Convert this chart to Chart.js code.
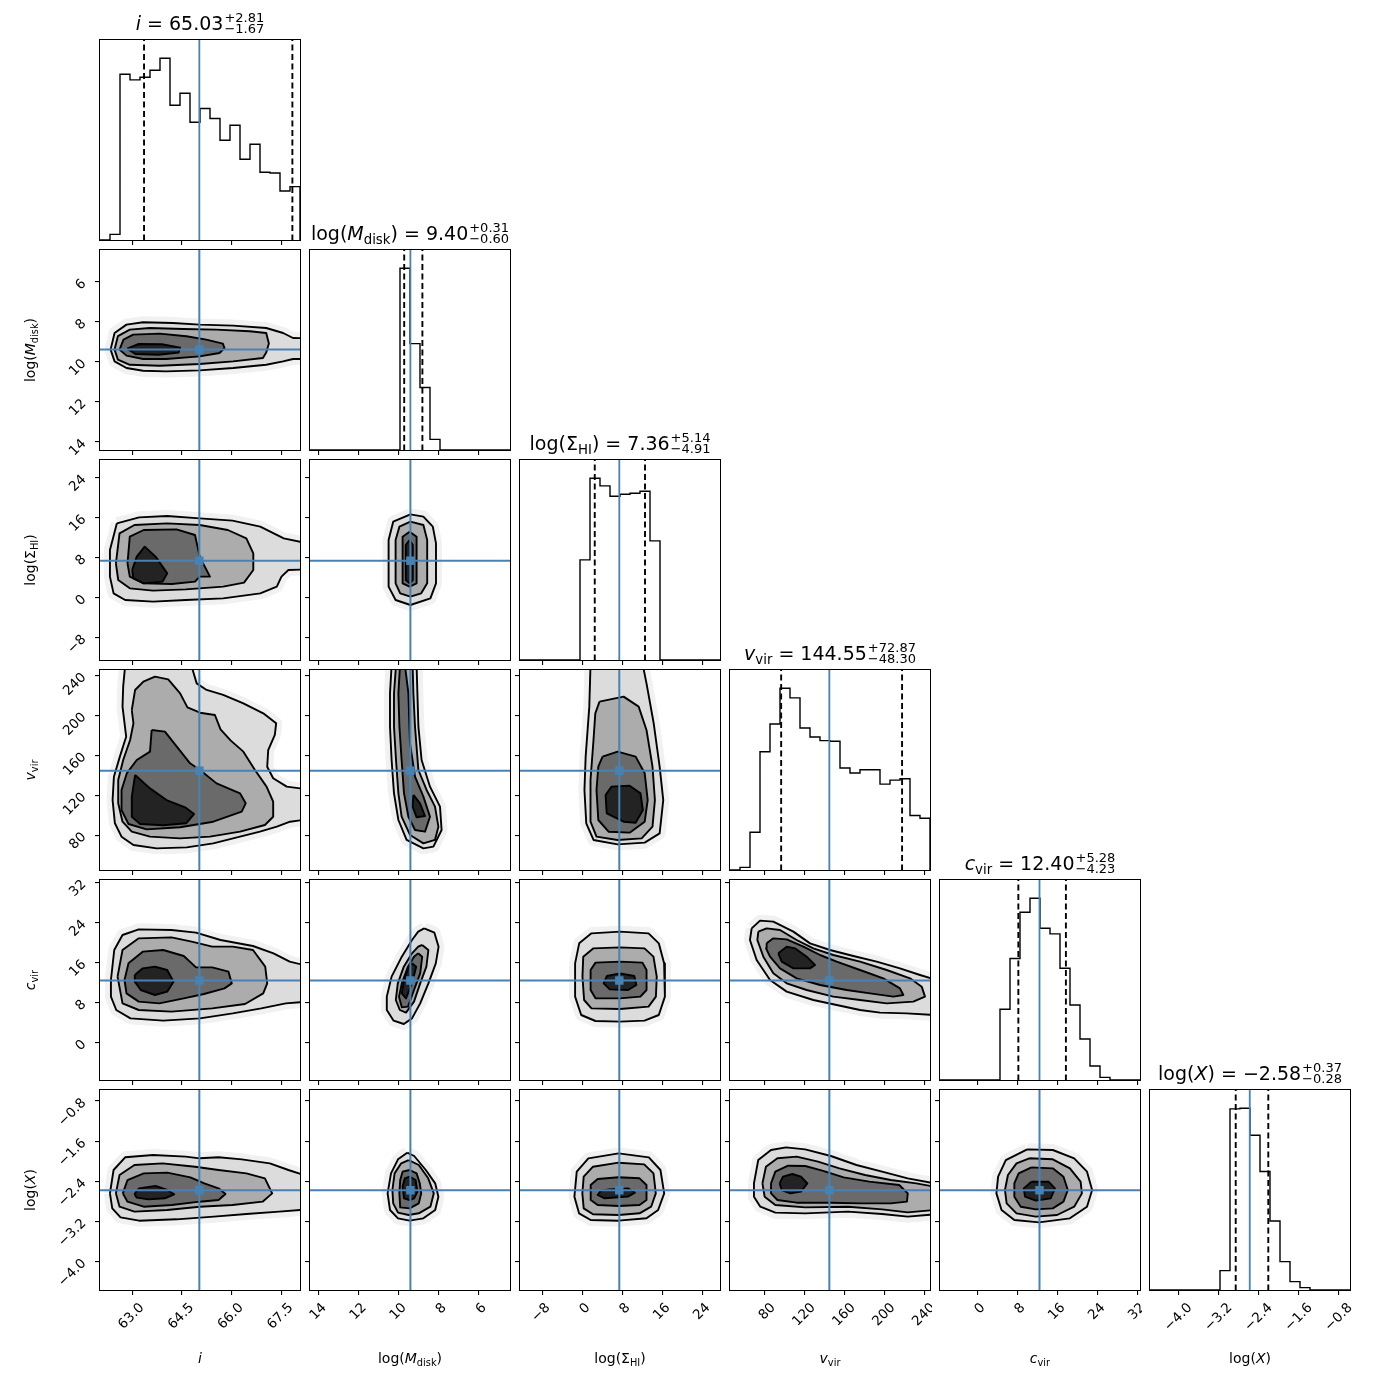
<!DOCTYPE html>
<html>
<head>
<meta charset="utf-8">
<script src="https://cdn.jsdelivr.net/npm/chart.js@4.4.1/dist/chart.umd.min.js"></script>
<style>
  html, body { margin: 0; padding: 0; background: #fff; }
  #fig { position: relative; width: 1390px; height: 1390px; overflow: hidden; font-family: "DejaVu Sans", sans-serif; color: #000; }
  canvas { position: absolute; }
  .box { position: absolute; border: 1px solid #000; box-sizing: border-box; pointer-events: none; }
  .ttl { position: absolute; width: 200px; height: 30px; display: flex; justify-content: center; align-items: center; font-size: 19px; white-space: nowrap; }
  .ss { display: inline-flex; flex-direction: column; font-size: 13px; line-height: 11.5px; margin-left: 1px; }
  .xl { position: absolute; width: 200px; height: 20px; line-height: 20px; text-align: center; font-size: 14px; white-space: nowrap; }
  .yl { position: absolute; width: 200px; height: 20px; line-height: 20px; text-align: center; font-size: 14px; white-space: nowrap; transform: rotate(-90deg); }
  sub { font-size: 70%; vertical-align: -0.3em; line-height: 0; }
</style>
</head>
<body>
<div id="fig"></div>
<script>
// parameter names, medians and 16/84 offsets (from the titles)
const NAMES_HTML = ['<i>i</i>', 'log(<i>M</i><sub>disk</sub>)', 'log(Σ<sub>HI</sub>)',
                    '<i>v</i><sub>vir</sub>', '<i>c</i><sub>vir</sub>', 'log(<i>X</i>)'];
const MEDIANS = [65.03, 9.40, 7.36, 144.55, 12.40, -2.58];
const ERR_PLUS = [2.81, 0.31, 5.14, 72.87, 5.28, 0.37];
const ERR_MINUS = [1.67, 0.60, 4.91, 48.30, 4.23, 0.28];

// axis ranges and ticks
const RANGES = [[62.03, 68.07], [4.42, 14.42], [-12.5, 27.5], [45, 245.4], [-7.5, 32.5], [-4.57, -0.58]];
const REVERSED = [false, true, false, false, false, false];
const TICKS = [[63, 64.5, 66, 67.5], [14, 12, 10, 8, 6], [-8, 0, 8, 16, 24],
               [80, 120, 160, 200, 240], [0, 8, 16, 24, 32], [-4, -3.2, -2.4, -1.6, -0.8]];
const TICK_LABELS = [['63.0', '64.5', '66.0', '67.5'], ['14', '12', '10', '8', '6'], ['−8', '0', '8', '16', '24'],
                     ['80', '120', '160', '200', '240'], ['0', '8', '16', '24', '32'], ['−4.0', '−3.2', '−2.4', '−1.6', '−0.8']];

// 1D histograms, 20 bins over the axis range (ascending data order)
const HIST_I     = [0, 17, 497, 480, 488, 509, 545, 404, 440, 353, 394, 364, 299, 344, 242, 287, 203, 201, 147, 160];
const HIST_MDISK = [0, 0, 0, 0, 0, 0, 0, 32, 188, 320, 547, 0, 0, 0, 0, 0, 0, 0, 0, 0];
const HIST_SIGMA = [0, 0, 0, 0, 0, 0, 300, 545, 522, 491, 497, 500, 506, 357, 0, 0, 0, 0, 0, 0];
const HIST_VVIR  = [0, 8, 113, 354, 437, 544, 515, 425, 398, 387, 385, 305, 290, 300, 300, 257, 269, 273, 163, 155];
const HIST_CVIR  = [0, 0, 0, 0, 0, 0, 212, 364, 503, 545, 455, 438, 335, 225, 123, 42, 8, 0, 0, 0];
const HIST_LOGX  = [0, 0, 0, 0, 0, 0, 0, 58, 543, 545, 464, 355, 207, 85, 25, 7, 0, 0, 0, 0];

// 2D contours, outer to inner level, [x, y] in data units
const CONT_1_0 = [
  [[62.35,9.40],[62.47,8.57],[62.83,8.15],[63.33,8.03],[64.23,8.07],[65.04,8.15],[66.05,8.20],[67.05,8.32],[67.56,8.57],[67.86,8.82],[68.3,8.83],[68.3,9.87],[67.86,9.87],[67.56,9.99],[67.05,10.16],[66.05,10.32],[65.04,10.44],[64.03,10.49],[63.33,10.46],[62.83,10.32],[62.47,9.99]],
  [[62.47,9.40],[62.57,8.73],[62.93,8.40],[63.53,8.32],[64.54,8.37],[65.54,8.40],[66.55,8.48],[67.05,8.57],[67.13,9.10],[67.05,9.55],[66.95,9.82],[66.05,9.99],[65.04,10.12],[63.83,10.21],[62.93,10.16],[62.57,9.90]],
  [[62.62,9.40],[62.74,8.90],[63.03,8.65],[63.83,8.60],[64.64,8.73],[65.24,8.90],[65.74,9.10],[65.79,9.32],[65.64,9.57],[65.04,9.74],[64.03,9.87],[63.33,9.87],[62.83,9.70]],
  [[62.85,9.35],[63.2,9.12],[63.9,9.13],[64.45,9.3],[64.4,9.55],[63.8,9.66],[63.1,9.62]]
];
const CONT_2_0 = [
  [[62.54,14.83],[63.21,16.03],[64.06,16.3],[65.04,15.83],[66.03,15.37],[66.87,14.17],[67.58,11.83],[68.3,10.83],[68.3,5.63],[67.72,5.5],[67.51,4.17],[67.37,2.17],[66.87,0.83],[65.75,-0.17],[64.62,-0.5],[63.63,-0.83],[62.79,-0.5],[62.44,0.83],[62.33,4.17],[62.33,9.5]],
  [[62.51,6.83],[62.62,12.83],[63.07,14.5],[64.06,14.83],[65.04,14.5],[65.89,13.5],[66.45,11.83],[66.66,8.83],[66.66,5.5],[66.38,2.97],[65.75,2.17],[64.62,1.63],[63.63,1.37],[62.93,1.83],[62.58,3.5]],
  [[62.86,6.83],[62.93,12.17],[63.35,13.5],[64.34,13.63],[64.90,12.5],[65.04,8.17],[65.35,4.17],[65.04,4.17],[64.90,3.17],[64.20,2.7],[63.35,2.83],[62.93,4.17]],
  [[63.0,5.5],[63.14,8.17],[63.38,10.17],[63.71,8.17],[64.06,4.83],[63.92,3.17],[63.35,2.83],[63.04,3.83]]
];
const CONT_2_1 = [
  [[9.40,16.63],[8.75,16.17],[8.28,14.17],[8.12,10.83],[8.12,2.83],[8.40,-0.17],[9.40,-1.5],[10.14,-0.5],[10.49,2.17],[10.49,11.5],[10.26,15.17]],
  [[9.40,15.17],[8.75,14.5],[8.56,11.5],[8.56,2.83],[8.86,0.83],[9.40,0.17],[9.91,0.83],[10.14,2.83],[10.14,11.5],[9.95,14.17]],
  [[9.44,13.17],[9.09,12.17],[9.09,2.83],[9.44,2.17],[9.79,2.83],[9.79,12.17]],
  [[9.44,11.5],[9.28,10.5],[9.28,3.5],[9.44,2.83],[9.63,3.5],[9.63,10.5]]
];
const CONT_3_0 = [
  [[62.79,250],[62.73,228.7],[62.71,208.7],[62.82,178.6],[62.63,158.6],[62.45,138.5],[62.41,115.1],[62.48,91.8],[62.68,78.4],[63.04,70.0],[63.74,66.7],[64.65,67.7],[65.45,71.7],[66.26,78.4],[66.86,83.4],[67.37,88.4],[67.77,93.4],[68.3,95.8],[68.3,125.8],[67.67,128.5],[67.26,136.9],[67.08,148.5],[67.11,165.2],[67.31,180.3],[67.35,192.0],[66.96,202.0],[66.36,212.0],[65.75,220.4],[65.25,225.4],[64.95,232.0],[64.83,245.4],[64.83,250]],
  [[62.99,205.3],[63.09,225.4],[63.34,233.7],[63.69,238.7],[64.09,236.0],[64.45,222.0],[64.67,208.0],[65.05,202.6],[65.50,200.3],[65.67,185.9],[65.98,174.6],[66.36,163.6],[66.71,145.2],[67.06,128.5],[67.26,113.5],[67.26,98.4],[67.01,90.1],[66.26,83.4],[65.35,78.4],[64.45,76.7],[63.54,78.4],[62.99,83.4],[62.71,93.4],[62.58,111.8],[62.58,135.2],[62.73,155.2],[62.94,175.3],[63.04,192.0]],
  [[63.59,185.3],[63.99,183.6],[64.35,168.6],[64.75,151.9],[65.05,145.2],[65.55,131.8],[66.26,121.8],[66.43,111.8],[66.31,103.4],[65.45,93.4],[64.45,87.8],[63.44,85.7],[62.89,91.1],[62.68,105.1],[62.68,125.2],[62.84,141.9],[63.14,155.2],[63.54,163.6]],
  [[63.09,140.2],[63.54,126.8],[64.04,115.1],[64.60,107.8],[64.87,101.1],[64.63,91.8],[63.94,89.8],[63.24,91.1],[62.99,98.4],[62.99,118.5]]
];
const CONT_3_1 = [
  [[10.34,250],[10.42,222.0],[10.42,188.6],[10.34,155.2],[10.22,121.8],[10.00,95.1],[9.59,75.1],[8.75,66.7],[8.25,68.4],[7.84,85.1],[7.92,108.5],[8.42,128.5],[8.84,155.2],[9.00,188.6],[9.05,222.0],[9.09,250]],
  [[10.12,250],[10.22,222.0],[10.22,188.6],[10.12,155.2],[10.00,121.8],[9.84,98.4],[9.42,80.1],[8.75,71.7],[8.17,75.1],[8.00,88.4],[8.17,108.5],[8.59,125.2],[9.00,145.2],[9.17,188.6],[9.25,222.0],[9.29,250]],
  [[9.92,250],[10.00,222.0],[9.95,188.6],[9.84,155.2],[9.72,121.8],[9.50,98.4],[9.17,85.1],[8.67,83.4],[8.42,98.4],[8.75,118.5],[9.17,138.5],[9.42,171.9],[9.50,222.0],[9.67,250]],
  [[9.25,120.2],[8.92,111.8],[8.67,99.1],[9.09,97.8],[9.29,108.5]]
];
const CONT_3_2 = [
  [[1.60,250],[1.36,208.7],[0.63,158.6],[0.39,125.2],[0.75,91.8],[2.20,75.1],[7.02,70.7],[12.44,72.4],[15.43,81.7],[16.15,115.1],[15.43,148.5],[14.24,192.0],[12.80,232.0],[12.08,250]],
  [[3.40,213.7],[8.22,218.7],[11.23,208.7],[12.80,185.3],[14.0,148.5],[14.48,115.1],[14.0,88.4],[11.84,76.7],[7.02,75.1],[2.80,78.4],[1.60,93.4],[1.60,135.2],[2.20,175.3],[2.56,202.0]],
  [[4.01,158.6],[7.02,163.6],[10.63,158.6],[12.44,141.9],[13.04,115.1],[12.44,93.4],[9.43,82.4],[5.21,83.4],[3.16,95.1],[2.80,125.2],[3.16,148.5]],
  [[4.61,120.2],[5.81,128.5],[9.43,129.5],[11.60,121.8],[12.08,105.1],[10.63,92.4],[8.22,93.4],[4.85,101.8]]
];
const CONT_4_0 = [
  [[62.36,12.5],[62.46,18.5],[62.71,21.5],[63.20,22.63],[64.19,22.5],[64.93,21.97],[65.67,20.5],[66.65,19.3],[67.27,17.83],[67.76,16.17],[68.3,15.3],[68.3,8.17],[67.64,7.83],[66.90,6.83],[66.04,5.83],[65.05,4.83],[63.94,4.37],[62.95,4.83],[62.52,6.5],[62.36,9.17]],
  [[62.56,13.17],[62.71,18.5],[63.20,20.83],[64.19,21.03],[64.80,20.17],[65.42,19.17],[66.04,19.17],[66.65,18.5],[67.02,15.17],[67.08,11.83],[66.96,9.83],[66.41,7.7],[65.42,6.83],[64.19,6.17],[63.20,6.5],[62.71,7.83]],
  [[62.77,12.5],[62.89,15.83],[63.32,18.17],[63.94,18.5],[64.56,17.3],[64.93,15.03],[65.42,15.03],[65.91,14.17],[66.01,11.83],[65.79,10.83],[65.17,9.7],[64.56,8.83],[63.82,7.83],[63.20,8.17],[62.83,9.83]],
  [[63.08,13.5],[63.32,14.83],[63.69,15.17],[64.06,14.5],[64.25,12.17],[64.06,10.17],[63.69,9.5],[63.26,10.5],[63.08,12.17]]
];
const CONT_4_1 = [
  [[8.71,22.83],[8.20,21.97],[7.99,19.17],[8.13,15.83],[8.50,11.83],[8.91,7.83],[9.32,4.83],[9.73,3.7],[10.24,4.37],[10.58,6.5],[10.58,9.17],[10.34,13.17],[9.83,17.17],[9.32,20.5],[9.01,22.17]],
  [[8.81,19.5],[8.50,18.5],[8.60,15.17],[8.91,11.83],[9.22,8.17],[9.62,5.97],[9.93,6.5],[10.13,8.5],[10.03,11.83],[9.73,15.17],[9.32,17.83],[9.01,19.17]],
  [[9.01,17.83],[8.81,17.17],[8.91,13.83],[9.22,10.5],[9.52,7.17],[9.83,7.03],[9.97,9.17],[9.83,11.83],[9.52,15.17],[9.22,17.17]],
  [[9.32,15.83],[9.11,15.17],[9.32,11.83],[9.62,8.83],[9.83,9.83],[9.73,12.17],[9.52,14.83]]
];
const CONT_4_2 = [
  [[7.50,22.17],[13.21,21.83],[15.26,19.83],[16.32,15.83],[16.48,9.17],[15.26,5.5],[12.40,4.37],[7.50,4.17],[2.60,4.3],[-0.26,5.5],[-1.48,9.17],[-1.48,15.83],[-0.66,19.83],[1.79,21.83]],
  [[7.50,19.03],[12.40,18.83],[14.19,17.17],[14.85,13.17],[14.68,9.17],[13.21,7.17],[7.50,6.7],[1.79,6.83],[0.32,8.5],[-0.01,13.17],[0.15,17.17],[2.19,18.83]],
  [[7.50,16.17],[11.99,15.97],[12.81,14.5],[12.81,10.5],[11.58,9.17],[7.50,8.83],[2.60,8.83],[1.62,10.5],[1.62,14.5],[2.60,15.97]],
  [[7.50,13.83],[10.36,13.3],[10.77,11.5],[9.13,10.5],[5.46,10.63],[4.23,11.83],[4.89,13.3]]
];
const CONT_4_3 = [
  [[66.7,22.83],[75.1,24.37],[88.4,24.17],[108.5,22.17],[125.2,19.83],[145.2,18.5],[168.6,17.3],[192.0,16.17],[215.3,14.83],[235.4,13.5],[250,12.6],[250,5.5],[222.0,5.83],[195.3,5.97],[175.3,6.5],[151.9,7.5],[128.5,8.5],[101.8,10.17],[85.1,12.5],[71.7,16.5],[65.0,20.5]],
  [[73.4,22.17],[81.7,22.83],[95.1,22.5],[111.8,20.5],[128.5,18.83],[148.5,17.5],[175.3,16.17],[202.0,14.5],[225.4,12.83],[237.1,11.17],[240.4,9.17],[228.7,8.17],[202.0,7.83],[175.3,8.5],[148.5,9.17],[121.8,10.5],[101.8,11.83],[88.4,13.83],[78.4,17.17],[72.4,20.5]],
  [[81.7,19.83],[88.4,20.83],[101.8,20.63],[118.5,19.17],[135.2,17.5],[151.9,16.17],[175.3,14.5],[198.6,12.83],[215.3,10.83],[218.7,9.5],[208.7,9.17],[185.3,9.83],[161.9,10.5],[135.2,11.5],[111.8,12.83],[95.1,14.83],[85.1,17.17],[81.1,18.83]],
  [[93.4,17.83],[101.8,19.17],[110.1,18.83],[121.8,17.17],[130.2,15.5],[125.2,14.83],[108.5,14.83],[96.8,16.17]]
];
const CONT_5_0 = [
  [[62.33,-2.642],[62.44,-2.176],[62.79,-1.923],[63.63,-1.877],[64.62,-1.91],[65.04,-1.943],[65.61,-1.923],[66.31,-1.963],[67.16,-2.043],[67.72,-2.176],[68.3,-2.296],[68.3,-2.961],[67.44,-3.007],[66.45,-3.054],[65.47,-3.107],[64.34,-3.16],[63.21,-3.187],[62.65,-3.12],[62.40,-2.941]],
  [[62.51,-2.642],[62.62,-2.276],[63.07,-2.076],[63.92,-2.043],[64.90,-2.11],[65.61,-2.176],[66.45,-2.243],[67.01,-2.342],[67.23,-2.642],[66.94,-2.808],[66.03,-2.874],[65.04,-2.908],[64.06,-2.974],[63.07,-3.007],[62.62,-2.908]],
  [[62.72,-2.642],[62.86,-2.376],[63.35,-2.243],[64.06,-2.229],[64.76,-2.322],[65.18,-2.442],[65.61,-2.542],[65.82,-2.655],[65.61,-2.775],[65.04,-2.808],[64.20,-2.874],[63.35,-2.908],[62.86,-2.808]],
  [[63.07,-2.655],[63.21,-2.542],[63.71,-2.495],[64.06,-2.575],[64.27,-2.661],[63.99,-2.741],[63.49,-2.761],[63.14,-2.728]]
];
const CONT_5_1 = [
  [[9.56,-1.830],[9.21,-1.897],[8.63,-2.176],[8.16,-2.442],[8.0,-2.708],[8.16,-2.974],[8.75,-3.14],[9.44,-3.187],[10.02,-3.14],[10.42,-2.974],[10.54,-2.642],[10.37,-2.243],[10.02,-1.963]],
  [[9.49,-1.977],[8.98,-2.076],[8.51,-2.342],[8.23,-2.642],[8.40,-2.908],[8.98,-3.04],[9.49,-3.074],[10.02,-3.027],[10.26,-2.841],[10.30,-2.575],[10.19,-2.243],[9.86,-2.043]],
  [[9.44,-2.176],[9.09,-2.243],[8.93,-2.442],[8.86,-2.642],[8.98,-2.841],[9.44,-2.941],[9.91,-2.921],[9.95,-2.642],[9.91,-2.376],[9.79,-2.209]],
  [[9.44,-2.309],[9.14,-2.376],[9.05,-2.609],[9.21,-2.741],[9.44,-2.775],[9.72,-2.741],[9.79,-2.509],[9.68,-2.342]]
];
const CONT_5_2 = [
  [[7.22,-1.844],[13.27,-1.923],[15.59,-2.176],[16.34,-2.642],[15.13,-2.974],[12.80,-3.14],[7.22,-3.187],[1.64,-3.174],[-0.69,-3.04],[-1.62,-2.708],[-1.15,-2.209],[1.17,-1.943]],
  [[7.22,-2.030],[12.34,-2.063],[14.20,-2.243],[14.66,-2.642],[13.73,-2.908],[11.41,-3.04],[7.22,-3.074],[2.10,-3.06],[0.24,-2.941],[-0.03,-2.642],[0.24,-2.309],[2.10,-2.11]],
  [[7.22,-2.322],[11.41,-2.342],[12.80,-2.475],[12.80,-2.775],[11.41,-2.874],[7.22,-2.894],[3.03,-2.874],[1.64,-2.775],[1.64,-2.475],[3.03,-2.356]],
  [[5.36,-2.562],[9.08,-2.542],[10.48,-2.628],[9.08,-2.708],[4.43,-2.741],[3.03,-2.675],[3.69,-2.588]]
];
const CONT_5_3 = [
  [[69.0,-2.442],[73.3,-1.977],[86.1,-1.777],[101.1,-1.724],[120.4,-1.764],[146.1,-1.897],[171.7,-2.076],[197.4,-2.209],[223.1,-2.342],[250,-2.442],[250,-3.06],[223.1,-3.107],[197.4,-3.054],[163.2,-3.007],[120.4,-3.041],[90.4,-3.027],[75.4,-2.908],[69.0,-2.708]],
  [[77.5,-2.442],[81.0,-2.11],[92.5,-1.943],[111.8,-1.91],[133.2,-2.01],[154.6,-2.143],[180.3,-2.276],[206.0,-2.376],[231.7,-2.442],[250,-2.509],[250,-2.974],[223.1,-3.021],[197.4,-2.961],[163.2,-2.908],[120.4,-2.921],[90.4,-2.874],[79.7,-2.708]],
  [[86.1,-2.442],[90.4,-2.209],[103.2,-2.09],[120.4,-2.096],[137.5,-2.189],[158.9,-2.322],[184.6,-2.409],[214.6,-2.475],[223.1,-2.642],[222.3,-2.808],[206.0,-2.841],[176.0,-2.841],[146.1,-2.828],[111.8,-2.828],[92.5,-2.775],[86.1,-2.642]],
  [[94.7,-2.442],[98.1,-2.309],[107.5,-2.256],[116.1,-2.309],[122.5,-2.442],[116.1,-2.608],[105.4,-2.642],[96.8,-2.575]]
];
const CONT_5_4 = [
  [[9.94,-1.764],[15.06,-1.777],[19.34,-1.943],[21.90,-2.209],[22.93,-2.575],[21.90,-2.908],[18.48,-3.14],[12.33,-3.22],[7.37,-3.174],[4.81,-2.974],[3.78,-2.642],[4.12,-2.309],[5.66,-1.977]],
  [[10.36,-1.943],[15.06,-1.963],[18.48,-2.143],[20.62,-2.409],[20.88,-2.642],[19.34,-2.908],[15.92,-3.074],[11.65,-3.107],[7.80,-3.041],[5.83,-2.841],[5.49,-2.575],[6.09,-2.276],[7.80,-2.043]],
  [[10.79,-2.123],[15.06,-2.143],[17.20,-2.309],[18.06,-2.575],[17.20,-2.808],[15.06,-2.941],[11.65,-2.961],[8.65,-2.908],[7.37,-2.708],[7.37,-2.442],[8.23,-2.243]],
  [[10.79,-2.409],[14.21,-2.409],[15.49,-2.542],[14.64,-2.741],[11.65,-2.788],[9.51,-2.708],[9.25,-2.542]]
];

const HISTS = [HIST_I, HIST_MDISK, HIST_SIGMA, HIST_VVIR, HIST_CVIR, HIST_LOGX];
const PANELS_2D = [
  [1, 0, CONT_1_0], [2, 0, CONT_2_0], [2, 1, CONT_2_1], [3, 0, CONT_3_0], [3, 1, CONT_3_1], [3, 2, CONT_3_2],
  [4, 0, CONT_4_0], [4, 1, CONT_4_1], [4, 2, CONT_4_2], [4, 3, CONT_4_3],
  [5, 0, CONT_5_0], [5, 1, CONT_5_1], [5, 2, CONT_5_2], [5, 3, CONT_5_3], [5, 4, CONT_5_4]
];

const BLUE = '#4682b4';
const HALO = '#f1f1f1';
const FILLS = ['#dcdcdc', '#acacac', '#6a6a6a', '#232323'];
const X_LABEL_SHIFT = [10, 6, 5.5, 8.5, 5.5, 11.5];
const TICK_FONT = {family: "'DejaVu Sans', sans-serif", size: 13.5};

const SIZE = 200, GAP = 10, X0 = 100, Y0 = 40;
const fig = document.getElementById('fig');
const panelLeft = c => X0 + c * (SIZE + GAP);
const panelTop = r => Y0 + r * (SIZE + GAP);

function tickLabel(k, v) {
    const i = TICKS[k].findIndex(t => Math.abs(t - v) < 1e-9);
    return i < 0 ? '' : TICK_LABELS[k][i];
}

function gridOpts() {
    return {drawOnChartArea: false, drawTicks: true, tickLength: 5, color: '#000', lineWidth: 1.1};
}

function xAxis(col, row, padB) {
    const [lo, hi] = RANGES[col];
    return {
        type: 'linear', min: lo, max: hi, reverse: REVERSED[col],
        border: {display: false},
        grid: gridOpts(),
        ticks: {
            autoSkip: false, minRotation: 45, maxRotation: 45, padding: 5,
            labelOffset: X_LABEL_SHIFT[col], color: '#000', font: TICK_FONT,
            callback: v => row === 5 ? tickLabel(col, v) : ''
        },
        afterBuildTicks: s => { s.ticks = TICKS[col].map(v => ({value: v})); },
        afterFit: s => { s.height = padB; s.paddingLeft = 0; s.paddingRight = 0; }
    };
}

function yAxis2D(row, col, padL) {
    const [lo, hi] = RANGES[row];
    return {
        type: 'linear', min: lo, max: hi, reverse: REVERSED[row],
        border: {display: false},
        grid: gridOpts(),
        ticks: {
            autoSkip: false, minRotation: 45, maxRotation: 45, padding: 11,
            color: '#000', font: TICK_FONT,
            callback: v => col === 0 ? tickLabel(row, v) : ''
        },
        afterBuildTicks: s => { s.ticks = TICKS[row].map(v => ({value: v})); },
        afterFit: s => { s.width = padL; s.paddingTop = 0; s.paddingBottom = 0; }
    };
}

function yAxisHist(ymax, padL) {
    return {
        type: 'linear', min: 0, max: ymax,
        border: {display: false},
        grid: {display: false},
        ticks: {display: false},
        afterFit: s => { s.width = padL; s.paddingTop = 0; s.paddingBottom = 0; }
    };
}

function makePanel(row, col, datasets, yScale, padL, padB) {
    const padT = 2, padR = 2;
    const w = SIZE + padL + padR, h = SIZE + padT + padB;
    const cv = document.createElement('canvas');
    cv.width = w; cv.height = h;
    cv.style.left = (panelLeft(col) - padL) + 'px';
    cv.style.top = (panelTop(row) - padT) + 'px';
    cv.style.width = w + 'px'; cv.style.height = h + 'px';
    fig.appendChild(cv);
    new Chart(cv.getContext('2d'), {
        type: 'line',
        data: {datasets: datasets},
        options: {
            responsive: false, animation: false, events: [],
            layout: {autoPadding: false, padding: {top: padT, right: padR, left: 0, bottom: 0}},
            plugins: {legend: {display: false}, tooltip: {enabled: false}},
            elements: {point: {radius: 0}, line: {tension: 0}},
            scales: {x: xAxis(col, row, padB), y: yScale}
        }
    });
    const box = document.createElement('div');
    box.className = 'box';
    box.style.left = (panelLeft(col) - 1) + 'px';
    box.style.top = (panelTop(row) - 1) + 'px';
    box.style.width = (SIZE + 2) + 'px';
    box.style.height = (SIZE + 2) + 'px';
    fig.appendChild(box);
}

function line(points, color, width, order, dash) {
    return {data: points, borderColor: color, borderWidth: width, borderDash: dash || [],
            fill: false, pointRadius: 0, order: order, clip: 0};
}

function ring(points, stroke, width, bg, order) {
    const pts = points.concat([points[0]]).map(p => ({x: p[0], y: p[1]}));
    return {data: pts, borderColor: stroke, borderWidth: width, backgroundColor: bg,
            fill: 'shape', pointRadius: 0, order: order, clip: 0, borderJoinStyle: 'round'};
}

// diagonal histograms
HISTS.forEach((counts, k) => {
    const [lo, hi] = RANGES[k];
    const step = (hi - lo) / counts.length;
    const pts = [{x: lo, y: 0}];
    counts.forEach((c, b) => {
        pts.push({x: lo + b * step, y: c});
        pts.push({x: lo + (b + 1) * step, y: c});
    });
    pts.push({x: hi, y: 0});
    const ymax = 1.1 * Math.max(...counts);
    const vert = v => [{x: v, y: -ymax}, {x: v, y: 2 * ymax}];
    const datasets = [
        line(pts, '#000', 1.4, 50),
        line(vert(MEDIANS[k] - ERR_MINUS[k]), '#000', 1.9, 40, [6, 3.5]),
        line(vert(MEDIANS[k] + ERR_PLUS[k]), '#000', 1.9, 40, [6, 3.5]),
        line(vert(MEDIANS[k]), BLUE, 1.8, 30)
    ];
    const padL = k === 0 ? 100 : 8, padB = k === 5 ? 80 : 8;
    makePanel(k, k, datasets, yAxisHist(ymax, padL), padL, padB);
});

// 2D panels
PANELS_2D.forEach(([row, col, cont]) => {
    const [xlo, xhi] = RANGES[col], [ylo, yhi] = RANGES[row];
    const xs = xhi - xlo, ys = yhi - ylo;
    const tx = MEDIANS[col], ty = MEDIANS[row];
    const datasets = [ring(cont[0], HALO, 12, HALO, 100)];
    cont.forEach((c, i) => datasets.push(ring(c, '#000', 1.9, FILLS[i], 90 - i * 10)));
    datasets.push(line([{x: tx, y: ylo - ys}, {x: tx, y: yhi + ys}], BLUE, 2, 10));
    datasets.push(line([{x: xlo - xs, y: ty}, {x: xhi + xs, y: ty}], BLUE, 2, 10));
    datasets.push({data: [{x: tx, y: ty}], showLine: false, pointRadius: 6, pointStyle: 'rect',
                   pointBackgroundColor: BLUE, pointBorderWidth: 0, order: 1, clip: 0});
    const padL = col === 0 ? 100 : 8, padB = row === 5 ? 80 : 8;
    makePanel(row, col, datasets, yAxis2D(row, col, padL), padL, padB);
});

// titles, axis labels
const fmt = v => v.toFixed(2).replace('-', '−');
NAMES_HTML.forEach((name, k) => {
    const t = document.createElement('div');
    t.className = 'ttl';
    t.style.left = panelLeft(k) + 'px';
    t.style.top = (panelTop(k) - 32) + 'px';
    t.innerHTML = '<span>' + name + ' = ' + fmt(MEDIANS[k]) + '</span><span class="ss"><span>+' +
        ERR_PLUS[k].toFixed(2) + '</span><span>−' + ERR_MINUS[k].toFixed(2) + '</span></span>';
    fig.appendChild(t);

    const xl = document.createElement('div');
    xl.className = 'xl';
    xl.style.left = panelLeft(k) + 'px';
    xl.style.top = '1348px';
    xl.innerHTML = name;
    fig.appendChild(xl);

    if (k > 0) {
        const yl = document.createElement('div');
        yl.className = 'yl';
        yl.style.left = (30 - 100) + 'px';
        yl.style.top = (panelTop(k) + SIZE / 2 - 10) + 'px';
        yl.innerHTML = name;
        fig.appendChild(yl);
    }
});
</script>
</body>
</html>
